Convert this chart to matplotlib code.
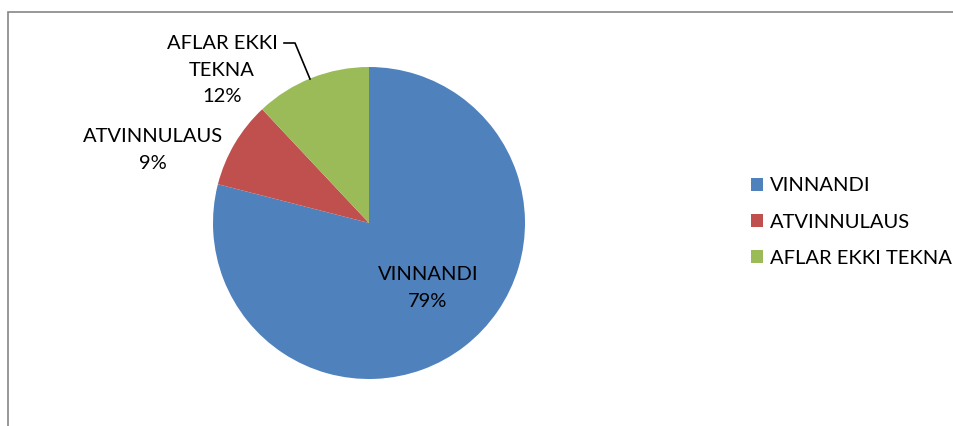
import matplotlib.pyplot as plt
from matplotlib.patches import Rectangle

categories = ["VINNANDI", "ATVINNULAUS", "AFLAR EKKI TEKNA"]
shares = [79, 9, 12]
colors = ["#4F81BD", "#C0504D", "#9BBB59"]

W, H = 954, 426
fig = plt.figure(figsize=(W / 100, H / 100), dpi=100)
plt.rcParams['font.family'] = ['Lato', 'DejaVu Sans']

# chart border (only top and left visible in the crop)
fig.patches.append(Rectangle((8 / W, -0.1), 1.2, 1.1 - 12 / H, transform=fig.transFigure,
                             fill=False, edgecolor="#868686", linewidth=1.2))

cx, cy, r = 369, 223, 156
ax = fig.add_axes([(cx - r) / W, (H - cy - r) / H, 2 * r / W, 2 * r / H])
wedges, _ = ax.pie(shares, colors=colors, startangle=90, counterclock=False, radius=1,
                   wedgeprops=dict(linewidth=0))
ax.set_xlim(-1, 1)
ax.set_ylim(-1, 1)
ax.set_aspect('equal')
ax.axis('off')

def px(x, y):
    return (x / W, 1 - y / H)

fs = 14.5
ls = 1.7
fig.text(*px(428, 288), f"{categories[0]}\n{shares[0]}%", ha='center', va='center',
         fontsize=fs, linespacing=ls)
fig.text(*px(153, 150), f"{categories[1]}\n{shares[1]}%", ha='center', va='center',
         fontsize=fs, linespacing=ls)
fig.text(*px(222, 70), "AFLAR EKKI\nTEKNA\n" + f"{shares[2]}%", ha='center', va='center',
         fontsize=fs, linespacing=ls)
# leader line for the green label
lx = [284 / W, 295 / W, 310 / W]
ly = [1 - 43 / H, 1 - 43 / H, 1 - 79 / H]
fig.add_artist(plt.Line2D(lx, ly, transform=fig.transFigure, color="black", linewidth=1.2))

fig.legend(wedges, categories, loc='center left', bbox_to_anchor=(751 / W, 1 - 222 / H),
           frameon=False, fontsize=fs, handlelength=0.6, handleheight=0.6,
           handletextpad=0.35, labelspacing=0.95, borderaxespad=0, borderpad=0)

fig.savefig("out.png", dpi=100)
